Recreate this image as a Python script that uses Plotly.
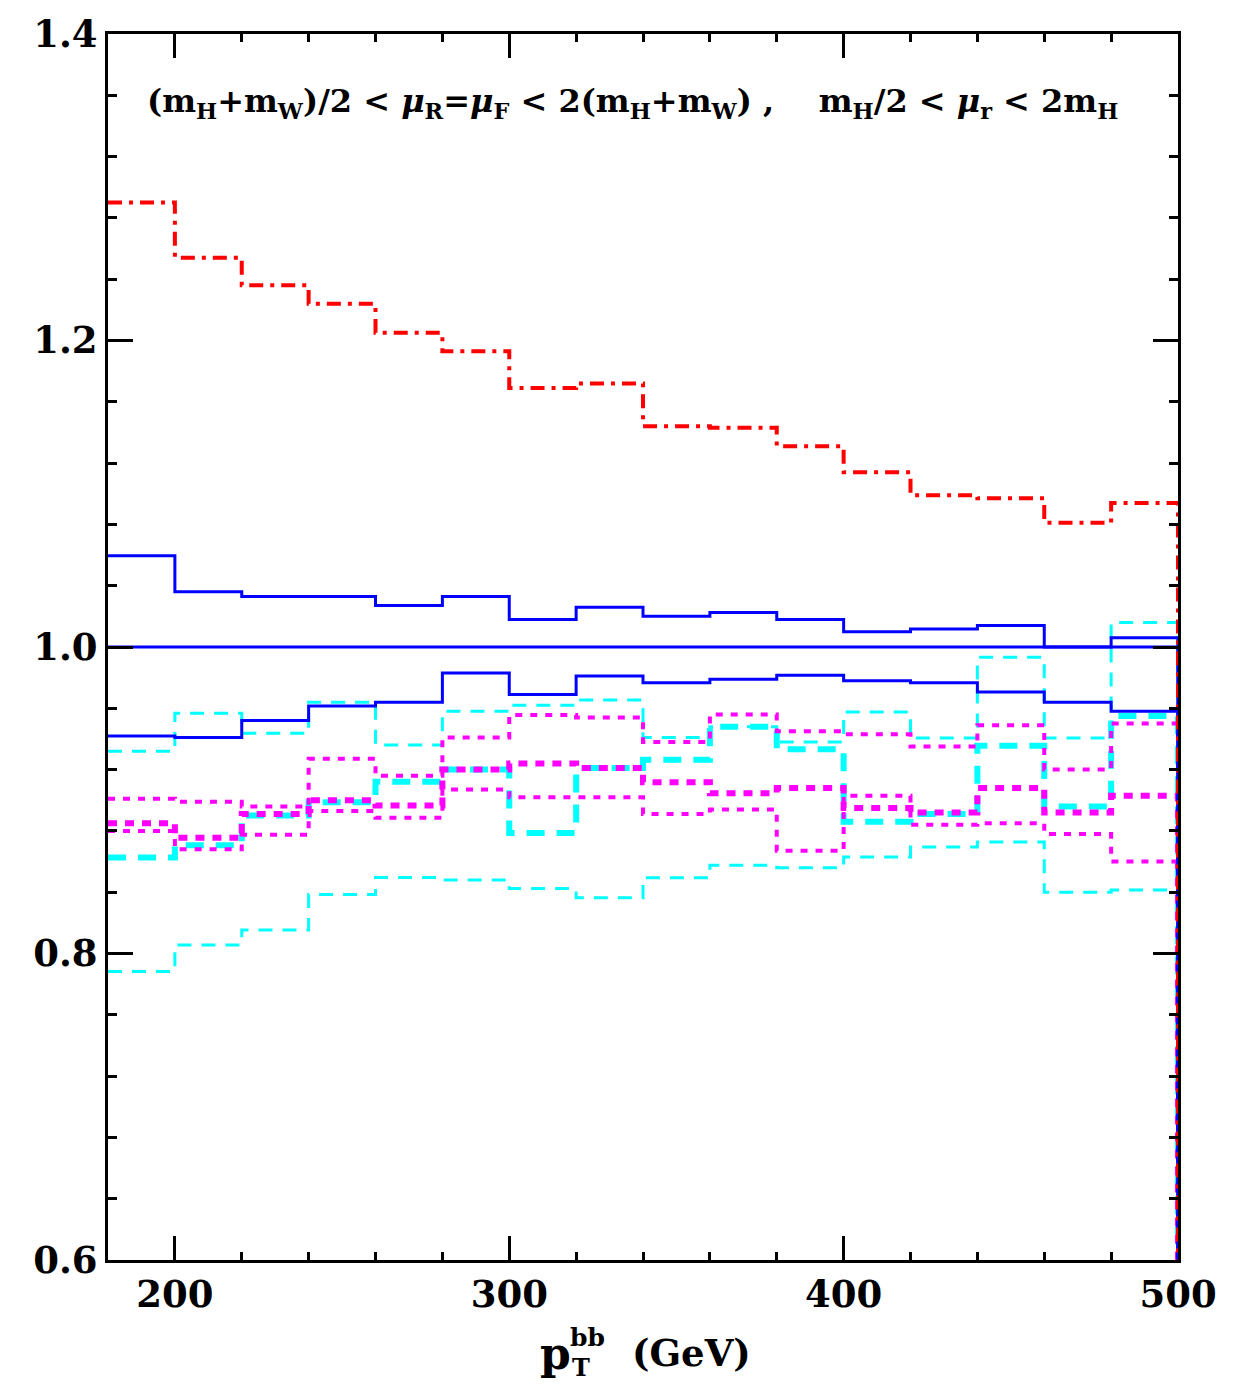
import plotly.graph_objects as go

# bin edges (p_T^bb, GeV)
edges = [180, 200, 220, 240, 260, 280, 300, 320, 340, 360, 380, 400, 420, 440, 460, 480, 500]

red = [1.290, 1.254, 1.236, 1.224, 1.205, 1.193, 1.169, 1.172, 1.144, 1.143, 1.131, 1.114, 1.099, 1.097, 1.081, 1.094]
blue_up = [1.0595, 1.036, 1.033, 1.033, 1.027, 1.033, 1.018, 1.026, 1.020, 1.0225, 1.018, 1.010, 1.0117, 1.014, 1.000, 1.006]
blue_mid = [1.0] * 16
blue_lo = [0.942, 0.941, 0.952, 0.9615, 0.964, 0.983, 0.969, 0.981, 0.9766, 0.979, 0.9816, 0.978, 0.9766, 0.9706, 0.964, 0.958]
cyan_up = [0.932, 0.9567, 0.9437, 0.964, 0.936, 0.958, 0.962, 0.9654, 0.941, 0.948, 0.938, 0.9576, 0.9407, 0.9933, 0.9407, 1.016]
cyan_mid = [0.8626, 0.8706, 0.890, 0.8987, 0.912, 0.920, 0.8786, 0.921, 0.9264, 0.948, 0.9333, 0.886, 0.891, 0.9355, 0.896, 0.955]
cyan_lo = [0.7883, 0.8056, 0.8154, 0.8385, 0.8496, 0.848, 0.8424, 0.8364, 0.8494, 0.8576, 0.856, 0.863, 0.8695, 0.8727, 0.840, 0.8414]
mag_up = [0.901, 0.899, 0.896, 0.927, 0.916, 0.941, 0.9556, 0.954, 0.938, 0.956, 0.945, 0.943, 0.935, 0.949, 0.920, 0.950]
mag_mid = [0.885, 0.8755, 0.891, 0.900, 0.8965, 0.920, 0.924, 0.921, 0.9117, 0.9045, 0.908, 0.895, 0.892, 0.908, 0.892, 0.903]
mag_lo = [0.880, 0.868, 0.8775, 0.893, 0.8885, 0.907, 0.902, 0.902, 0.891, 0.894, 0.867, 0.903, 0.884, 0.885, 0.878, 0.860]

x_ticks = [200, 300, 400, 500]
y_ticks = [0.6, 0.8, 1.0, 1.2, 1.4]


def step(vals):
    xs = list(edges) + [edges[-1]]
    ys = list(vals) + [vals[-1], 0.0]
    return xs, ys


series = [
    (cyan_lo, "#00FFFF", 3, "14px,10px"),
    (cyan_up, "#00FFFF", 3, "14px,10px"),
    (cyan_mid, "#00FFFF", 6, "18px,12px"),
    (mag_lo, "#FF00FF", 4, "7px,8px"),
    (mag_up, "#FF00FF", 4, "7px,8px"),
    (mag_mid, "#FF00FF", 6, "9px,8px"),
    (blue_mid, "#0000FF", 3, "solid"),
    (blue_up, "#0000FF", 3, "solid"),
    (blue_lo, "#0000FF", 3, "solid"),
    (red, "#FF0000", 4, "14px,7px,4px,7px"),
]

fig = go.Figure()
for vals, col, w, dash in series:
    xs, ys = step(vals)
    fig.add_trace(go.Scatter(x=xs, y=ys, mode="lines", line_shape="hv",
                             line=dict(color=col, width=w, dash=dash),
                             showlegend=False, hoverinfo="skip"))

tickfont = dict(family="DejaVu Serif", size=37, color="black", weight="bold")

fig.update_layout(
    width=1247, height=1385,
    margin=dict(l=108, r=69, t=24, b=125),
    paper_bgcolor="white", plot_bgcolor="white",
    showlegend=False,
)
fig.update_xaxes(
    range=[180, 500], tickvals=x_ticks, ticktext=[str(v) for v in x_ticks],
    ticks="inside", ticklen=24, tickwidth=3, tickcolor="black",
    showline=True, linewidth=3, linecolor="black", mirror="allticks",
    showgrid=False, zeroline=False, tickfont=tickfont,
    minor=dict(dtick=20, tick0=0, ticks="inside", ticklen=8, tickwidth=3, tickcolor="black", showgrid=False),
)
fig.update_yaxes(
    range=[0.6, 1.4], tickvals=y_ticks, ticktext=["%.1f" % v for v in y_ticks],
    ticks="inside", ticklen=25, tickwidth=3, tickcolor="black",
    showline=True, linewidth=3, linecolor="black", mirror="allticks",
    showgrid=False, zeroline=False, tickfont=tickfont,
    minor=dict(dtick=0.04, tick0=0.6, ticks="inside", ticklen=9, tickwidth=3, tickcolor="black", showgrid=False),
)

label = ("(m<sub>H</sub>+m<sub>W</sub>)/2 &lt; <i>μ</i><sub>R</sub>=<i>μ</i><sub>F</sub> &lt; "
         "2(m<sub>H</sub>+m<sub>W</sub>) ,    m<sub>H</sub>/2 &lt; <i>μ</i><sub>r</sub> &lt; 2m<sub>H</sub>")
fig.add_annotation(xref="paper", yref="paper", x=0.0346, y=0.944, xanchor="left", yanchor="middle",
                   text=label, showarrow=False,
                   font=dict(family="DejaVu Serif", size=32, color="black", weight="bold"))

# x-axis title: p_T^bb (GeV)
fig.add_annotation(xref="paper", yref="paper", x=0.402, y=-0.076, xanchor="left", yanchor="middle",
                   text="p", showarrow=False,
                   font=dict(family="DejaVu Serif", size=44, color="black", weight="bold"))
fig.add_annotation(xref="paper", yref="paper", x=0.430, y=-0.063, xanchor="left", yanchor="middle",
                   text="bb", showarrow=False,
                   font=dict(family="DejaVu Serif", size=25, color="black", weight="bold"))
fig.add_annotation(xref="paper", yref="paper", x=0.432, y=-0.088, xanchor="left", yanchor="middle",
                   text="T", showarrow=False,
                   font=dict(family="DejaVu Serif", size=24, color="black", weight="bold"))
fig.add_annotation(xref="paper", yref="paper", x=0.488, y=-0.076, xanchor="left", yanchor="middle",
                   text="(GeV)", showarrow=False,
                   font=dict(family="DejaVu Serif", size=37, color="black", weight="bold"))

fig.write_html("out.html")
